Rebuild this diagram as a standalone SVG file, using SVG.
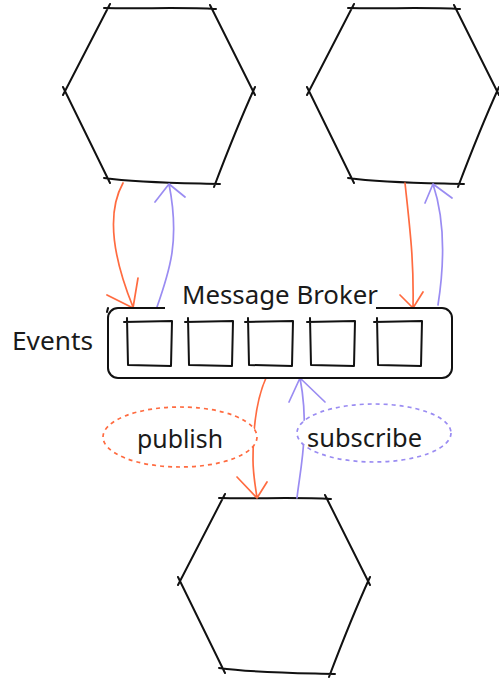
<svg xmlns="http://www.w3.org/2000/svg" xmlns:xlink="http://www.w3.org/1999/xlink" width="499" height="679" viewBox="0 0 499 679">
<style>
.ink{fill:none;stroke:#111;stroke-width:2;stroke-linecap:round;stroke-linejoin:round}
.txt{font-family:"Noto Sans","Open Sans","DejaVu Sans",sans-serif;font-size:25px;fill:#1a1a1a}
.or{fill:none;stroke:#ff6b40;stroke-width:1.7;stroke-linecap:round;stroke-linejoin:round}
.bl{fill:none;stroke:#9a8cf2;stroke-width:1.7;stroke-linecap:round;stroke-linejoin:round}
.lbl-or{fill:#fff;stroke:#ff6b40;stroke-width:1.7;stroke-dasharray:4 4}
.lbl-bl{fill:#fff;stroke:#9a8cf2;stroke-width:1.7;stroke-dasharray:4 4}
</style>
<defs>
<path id="hex" d="M104,8 C140,9 180,7 216,9 M210,5 L255,95 M255,87 C240,120 228,150 214,187 M220,184 C180,183 140,183 104,178 M110,183 L63,87 M63,95 L110,4"/>
</defs>
<rect width="499" height="679" fill="#fff"/>
<g id="service-a"><use xlink:href="#hex" href="#hex" class="ink"/></g>
<g id="service-b"><use xlink:href="#hex" href="#hex" class="ink" transform="translate(244,0)"/></g>
<g id="service-c"><use xlink:href="#hex" href="#hex" class="ink" transform="translate(115,490)"/></g>
<g id="connectors">
<path class="or" d="M123,183 C108,210 110,250 133,307 M107,295 L133,308 L138,278"/>
<path class="bl" d="M157,307 C170,270 180,240 169,184 M155,202 L169,184 L185,197"/>
<path class="or" d="M405,183 C410,230 414,260 413,308 M400,295 L413,308 L423,292"/>
<path class="bl" d="M438,305 C445,260 445,220 433,184 M425,203 L433,184 L452,198"/>
<path class="or" d="M266,378 C256,400 253,430 253,460 C253,475 256,490 257,498 M237,477 L257,498 L267,482"/>
<path class="bl" d="M297,498 C300,470 310,430 300,378 M289,402 L300,378 L325,402"/>
</g>
<g id="broker">
<rect x="108" y="308" width="344" height="70" rx="10" class="ink"/>
<path class="ink" d="M107,312 L108,308"/>
<rect x="165" y="292" width="211" height="20" fill="#fff"/>
<text class="txt" x="182" y="304" textLength="196" lengthAdjust="spacingAndGlyphs">Message Broker</text>
<path class="ink" d="M124,322 L172,321 L171,366 L128,365 L127,318"/>
<path class="ink" d="M185,322 L233,321 L232,366 L189,365 L188,318"/>
<path class="ink" d="M245,322 L293,321 L292,366 L249,365 L248,318"/>
<path class="ink" d="M307,322 L355,321 L354,366 L311,365 L310,318"/>
<path class="ink" d="M374,322 L422,321 L421,366 L378,365 L377,318"/>
</g>
<g id="events-label"><text class="txt" x="12" y="350" textLength="81" lengthAdjust="spacingAndGlyphs">Events</text></g>
<g id="publish-label">
<ellipse class="lbl-or" cx="180" cy="437" rx="77" ry="30"/>
<text class="txt" x="137" y="448" textLength="86" lengthAdjust="spacingAndGlyphs">publish</text>
</g>
<g id="subscribe-label">
<ellipse class="lbl-bl" cx="374" cy="433" rx="77" ry="29"/>
<text class="txt" x="307" y="447" textLength="115" lengthAdjust="spacingAndGlyphs">subscribe</text>
</g>
</svg>
